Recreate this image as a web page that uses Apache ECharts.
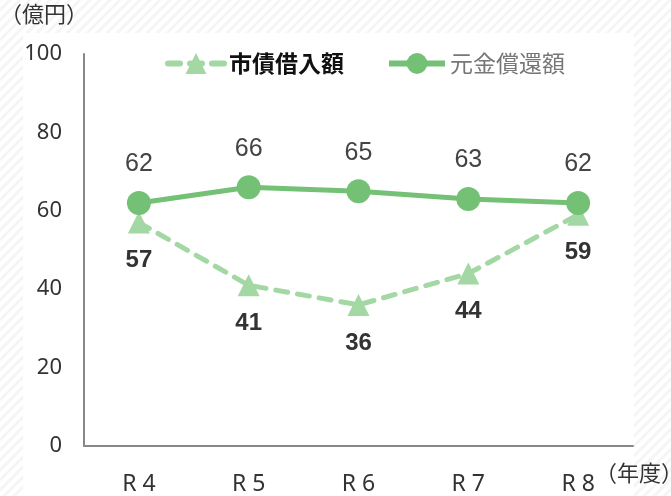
<!DOCTYPE html>
<html><head><meta charset="utf-8">
<script src="https://cdn.jsdelivr.net/npm/echarts@6/dist/echarts.min.js"></script>
<style>html,body{margin:0;padding:0;background:#fff}#c{width:671px;height:496px}</style>
</head><body><div id="c"></div>
<script>
const categories = ['R 4', 'R 5', 'R 6', 'R 7', 'R 8'];
const borrowing = [57, 41, 36, 44, 59];
const repayment = [62, 66, 65, 63, 62];
const yTicks = [0, 20, 40, 60, 80, 100];
const seriesNames = ['市債借入額', '元金償還額'];

const pc = document.createElement('canvas');
pc.width = 10; pc.height = 10;
const g = pc.getContext('2d');
g.fillStyle = '#ffffff'; g.fillRect(0, 0, 10, 10);
g.strokeStyle = '#f5f5f5'; g.lineWidth = 3;
g.beginPath();
g.moveTo(-3, 13); g.lineTo(13, -3);
g.moveTo(-8, 8); g.lineTo(8, -8);
g.moveTo(2, 18); g.lineTo(18, 2);
g.stroke();

const font = '"Noto Sans CJK JP", "Noto Sans", sans-serif';
const numFont = '"Noto Sans", sans-serif';
const chart = echarts.init(document.getElementById('c'));
chart.setOption({
  backgroundColor: { image: pc, repeat: 'repeat' },
  animation: false,
  textStyle: { fontFamily: font },
  graphic: [
    { type: 'rect', z: -10, shape: { x: 23, y: 33, width: 611, height: 463 }, style: { fill: '#ffffff' } },
    { type: 'text', left: 0, top: 3, style: { text: '（億円）', font: '22px ' + font, fill: '#333' } },
    { type: 'text', left: 595, top: 462, style: { text: '（年度）', font: '22px ' + font, fill: '#333' } }
  ],
  legend: {
    top: 47, left: 160,
    itemWidth: 56, itemHeight: 26, itemGap: 42,
    lineStyle: { width: 6 },
    data: [
      { name: seriesNames[0], textStyle: { fontWeight: 'bold', color: '#111', fontSize: 23 } },
      { name: seriesNames[1], textStyle: { color: '#777', fontSize: 23 } }
    ]
  },
  grid: { left: 84, right: 38, top: 54, bottom: 49 },
  xAxis: {
    type: 'category', data: categories,
    axisLine: { lineStyle: { color: '#888', width: 2 } },
    axisTick: { show: false },
    axisLabel: { color: '#333', fontSize: 23, margin: 27, fontFamily: numFont }
  },
  yAxis: {
    type: 'value', min: yTicks[0], max: yTicks[yTicks.length - 1], interval: 20,
    axisLine: { show: true, lineStyle: { color: '#888', width: 2 } },
    axisTick: { show: false },
    splitLine: { show: false },
    axisLabel: { color: '#333', fontSize: 22, margin: 22, fontFamily: numFont }
  },
  series: [
    {
      name: seriesNames[0], type: 'line', data: borrowing, z: 2,
      symbol: 'triangle', symbolSize: 22,
      itemStyle: { color: '#a3d8a4' },
      lineStyle: { color: '#a3d8a4', width: 5, type: [12, 10], cap: 'round' },
      label: { show: true, position: 'bottom', distance: 15, color: '#333', fontWeight: 'bold', fontSize: 24, fontFamily: 'Liberation Sans, Arial, sans-serif' }
    },
    {
      name: seriesNames[1], type: 'line', data: repayment, z: 3,
      symbol: 'circle', symbolSize: 24,
      itemStyle: { color: '#74c176' },
      lineStyle: { color: '#74c176', width: 5 },
      label: { show: true, position: 'top', distance: 14, color: '#444', fontSize: 25, fontFamily: 'Liberation Sans, Arial, sans-serif' }
    }
  ]
});
</script></body></html>
